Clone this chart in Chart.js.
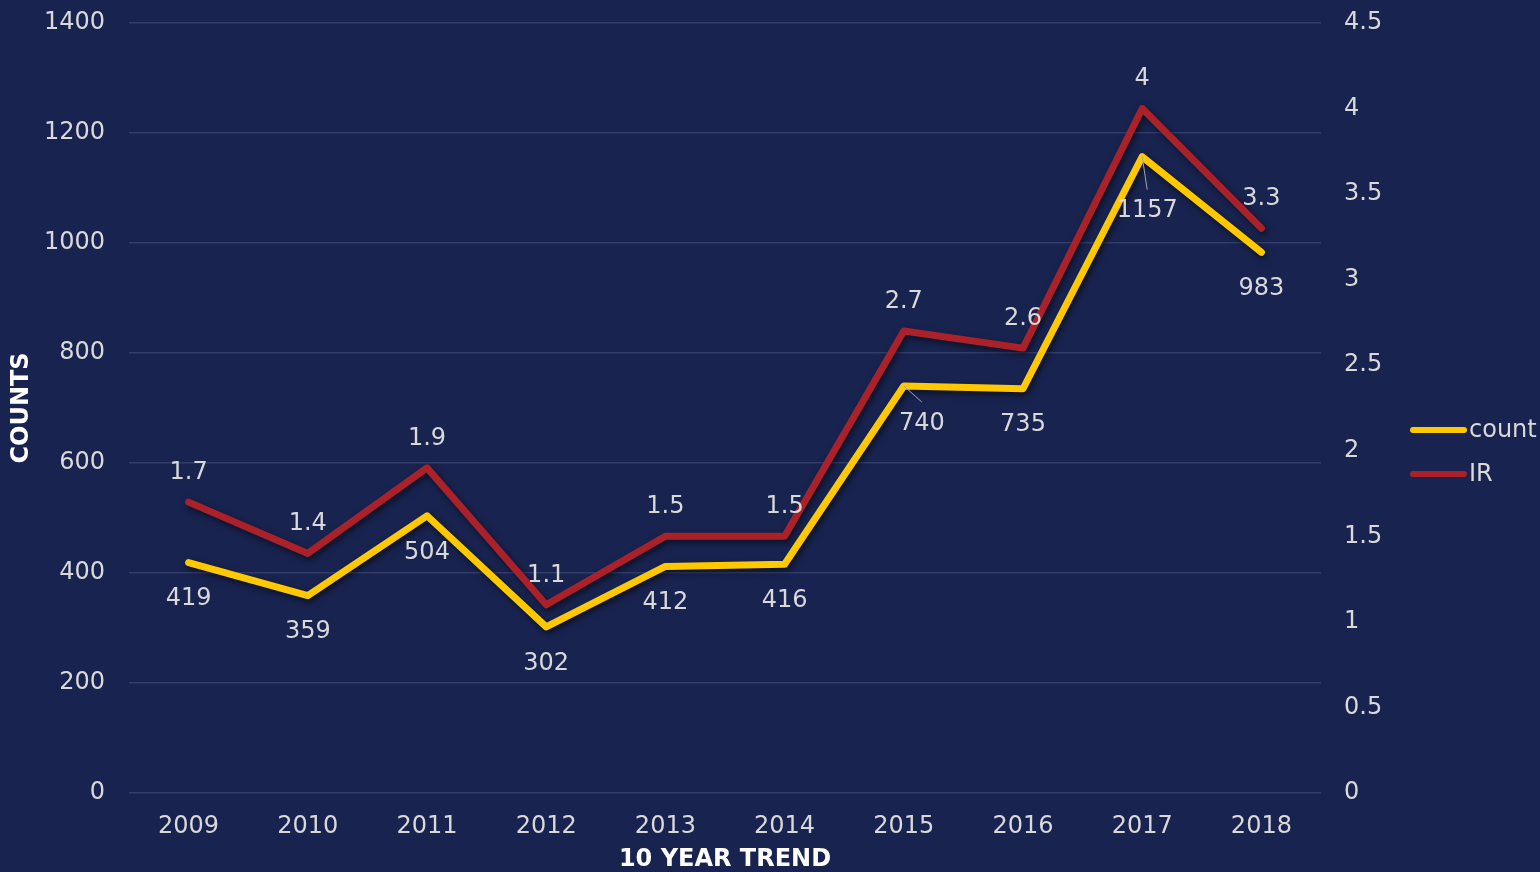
<!DOCTYPE html>
<html>
<head>
<meta charset="utf-8">
<script src="https://cdn.jsdelivr.net/npm/chart.js@4/dist/chart.umd.min.js"></script>
<style>
html,body{margin:0;padding:0;background:#18234f;}
#wrap{width:1540px;height:872px;position:relative;}
</style>
</head>
<body>
<div id="wrap"><canvas id="c" width="1540" height="872"></canvas></div>
<script>
const years = ["2009","2010","2011","2012","2013","2014","2015","2016","2017","2018"];
const countValues = [419, 359, 504, 302, 412, 416, 740, 735, 1157, 983];
const irValues = [1.7, 1.4, 1.9, 1.1, 1.5, 1.5, 2.7, 2.6, 4, 3.3];
const leftTicks = [0, 200, 400, 600, 800, 1000, 1200, 1400];
const rightTicks = [0, 0.5, 1, 1.5, 2, 2.5, 3, 3.5, 4, 4.5];

const FONT = "Verdana, 'DejaVu Sans', sans-serif";
const TEXT = "#d9d9d9";
const GRID = "#323d6c";
const YELLOW = "#ffc800";
const RED = "#ab2129";
const FS = 24;

const shadowPlugin = {
  id: 'shadow',
  beforeDatasetDraw(chart) {
    const ctx = chart.ctx;
    ctx.save();
    ctx.shadowColor = 'rgba(0,0,0,0.55)';
    ctx.shadowBlur = 6;
    ctx.shadowOffsetX = 2;
    ctx.shadowOffsetY = 3;
  },
  afterDatasetDraw(chart) { chart.ctx.restore(); }
};

const labelPlugin = {
  id: 'labels',
  afterDatasetsDraw(chart) {
    const ctx = chart.ctx;
    ctx.save();
    ctx.font = FS + "px " + FONT;
    ctx.fillStyle = TEXT;
    ctx.textAlign = 'center';
    ctx.textBaseline = 'middle';
    const cfg = chart.options.plugins.labels;
    chart.data.datasets.forEach((ds, di) => {
      const meta = chart.getDatasetMeta(di);
      const c = cfg[di];
      meta.data.forEach((pt, i) => {
        const sp = (c.special && c.special[i]) || null;
        const dx = sp ? sp.dx : 0;
        const dy = sp ? sp.dy : c.dy;
        if (sp && sp.leader) {
          ctx.save();
          ctx.strokeStyle = '#a6a6a6';
          ctx.lineWidth = 1;
          ctx.beginPath();
          ctx.moveTo(pt.x, pt.y);
          ctx.lineTo(pt.x + sp.leader[0], pt.y + sp.leader[1]);
          ctx.stroke();
          ctx.restore();
        }
        ctx.fillText(String(ds.data[i]), pt.x + dx, pt.y + dy);
      });
    });
    ctx.restore();
  }
};

const legendPlugin = {
  id: 'customLegend',
  afterDraw(chart) {
    const ctx = chart.ctx;
    ctx.save();
    ctx.font = FS + "px " + FONT;
    ctx.textAlign = 'left';
    ctx.textBaseline = 'middle';
    const x0 = 1413, y0 = 431, gap = 44;
    chart.data.datasets.forEach((ds, i) => {
      const y = y0 + i * gap;
      ctx.strokeStyle = ds.borderColor;
      ctx.lineWidth = 6;
      ctx.lineCap = 'round';
      ctx.beginPath();
      ctx.moveTo(x0, y - 1);
      ctx.lineTo(x0 + 51, y - 1);
      ctx.stroke();
      ctx.fillStyle = TEXT;
      ctx.fillText(ds.label, x0 + 56, y);
    });
    ctx.restore();
  }
};

function noPadV(s, w) { s.width = w; s.paddingTop = 0; s.paddingBottom = 0; }

new Chart(document.getElementById('c'), {
  type: 'line',
  data: {
    labels: years,
    datasets: [
      { label: 'count', data: countValues, yAxisID: 'y', borderColor: YELLOW, backgroundColor: YELLOW,
        borderWidth: 7, pointRadius: 0, borderCapStyle: 'round', borderJoinStyle: 'round', tension: 0 },
      { label: 'IR', data: irValues, yAxisID: 'y1', borderColor: RED, backgroundColor: RED,
        borderWidth: 7, pointRadius: 0, borderCapStyle: 'round', borderJoinStyle: 'round', tension: 0 }
    ]
  },
  options: {
    responsive: false,
    animation: false,
    events: [],
    layout: { autoPadding: false, padding: { left: 0, right: 119, top: 23, bottom: 0 } },
    plugins: {
      legend: { display: false },
      tooltip: { enabled: false },
      labels: {
        0: { dy: 36.5, special: { 6: { dx: 18, dy: 38, leader: [18, 16] }, 8: { dx: 5, dy: 54, leader: [5, 33] } } },
        1: { dy: -29.5 }
      }
    },
    scales: {
      x: {
        offset: true,
        grid: { display: false, drawTicks: false },
        border: { display: false },
        ticks: { color: TEXT, font: { family: FONT, size: FS }, padding: 19, maxRotation: 0 },
        title: { display: true, text: '10 YEAR TREND', color: '#ffffff',
                 font: { family: FONT, size: FS, weight: 'bold', lineHeight: 1 }, padding: { top: 0, bottom: 0 } },
        afterFit(s) { s.height = 79; s.paddingLeft = 0; s.paddingRight = 0; }
      },
      y: {
        position: 'left',
        min: 0, max: 1400,
        afterBuildTicks(s) { s.ticks = leftTicks.map(v => ({ value: v })); },
        grid: { color: GRID, lineWidth: 1.5, drawTicks: false },
        border: { display: false },
        ticks: { color: TEXT, font: { family: FONT, size: FS }, padding: 24, callback: v => String(v) },
        title: { display: true, text: 'COUNTS', color: '#ffffff',
                 font: { family: FONT, size: FS, weight: 'bold', lineHeight: 1 }, padding: { top: 10, bottom: 0 } },
        afterFit(s) { noPadV(s, 129); }
      },
      y1: {
        position: 'right',
        min: 0, max: 4.5,
        afterBuildTicks(s) { s.ticks = rightTicks.map(v => ({ value: v })); },
        grid: { display: false, drawTicks: false },
        border: { display: false },
        ticks: { color: TEXT, font: { family: FONT, size: FS }, padding: 23, callback: v => String(v) },
        afterFit(s) { noPadV(s, 100); }
      }
    }
  },
  plugins: [shadowPlugin, labelPlugin, legendPlugin]
});
</script>
</body>
</html>
